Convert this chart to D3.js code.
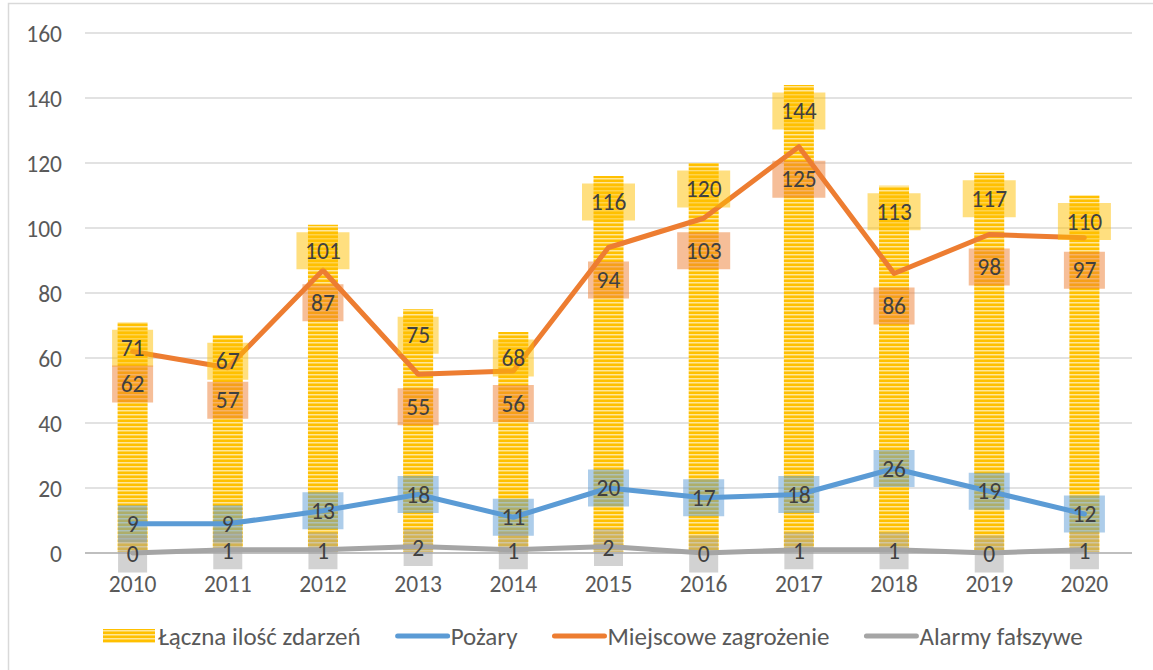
<!DOCTYPE html>
<html><head><meta charset="utf-8">
<script src="https://cdn.jsdelivr.net/npm/d3@7"></script>
<style>
html,body{margin:0;padding:0;background:#fff;}
svg text{font-family:Carlito,Lato,"Open Sans",sans-serif;}
</style></head>
<body>
<svg id="chart" width="1153" height="670"></svg>
<script>
const years = ["2010","2011","2012","2013","2014","2015","2016","2017","2018","2019","2020"];
const totalEvents = [71, 67, 101, 75, 68, 116, 120, 144, 113, 117, 110];
const fires = [9, 9, 13, 18, 11, 20, 17, 18, 26, 19, 12];
const localThreats = [62, 57, 87, 55, 56, 94, 103, 125, 86, 98, 97];
const falseAlarms = [0, 1, 1, 2, 1, 2, 0, 1, 1, 0, 1];
const yTicks = [0, 20, 40, 60, 80, 100, 120, 140, 160];
const seriesNames = ["Łączna ilość zdarzeń", "Pożary", "Miejscowe zagrożenie", "Alarmy fałszywe"];

const svg = d3.select("#chart");
const plot = {left: 85, right: 1132, top: 33, bottom: 553};
const FS = 23.5;

// outer chart frame (extends beyond the photo on right/bottom)
svg.append("rect").attr("x", 8.5).attr("y", 3.5).attr("width", 1160).attr("height", 700)
  .attr("fill", "#fff").attr("stroke", "#d9d9d9").attr("stroke-width", 1.5);

const x = d3.scaleBand().domain(years).range([plot.left, plot.right]).padding(0);
const y = d3.scaleLinear().domain([0, 160]).range([plot.bottom, plot.top]);

// pattern for bars
const defs = svg.append("defs");
const pat = defs.append("pattern").attr("id", "stripes").attr("patternUnits", "userSpaceOnUse")
  .attr("width", 8).attr("height", 4);
pat.append("rect").attr("width", 8).attr("height", 4).attr("fill", "#FFC000");
pat.append("rect").attr("y", 2).attr("width", 8).attr("height", 1).attr("fill", "#FFE699");
pat.append("rect").attr("y", 3).attr("width", 8).attr("height", 1).attr("fill", "#FFD34D");

// gridlines
svg.append("g").selectAll("line").data(yTicks.filter(d => d > 0)).join("line")
  .attr("x1", plot.left).attr("x2", plot.right)
  .attr("y1", d => y(d)).attr("y2", d => y(d))
  .attr("stroke", "#d9d9d9").attr("stroke-width", 1.5);

// y axis labels
const yAxis = d3.axisLeft(y).tickValues(yTicks).tickSize(0).tickPadding(0);
const yg = svg.append("g").attr("transform", `translate(62,0)`).call(yAxis);
yg.select(".domain").remove();
yg.selectAll("text").attr("font-size", FS).attr("fill", "#595959")
  .style("font-family", "Carlito,Lato,sans-serif").attr("dy", "0.35em");

// bars
const barW = 30;
svg.append("g").selectAll("rect").data(totalEvents).join("rect")
  .attr("x", (d, i) => x(years[i]) + x.bandwidth() / 2 - barW / 2)
  .attr("width", barW)
  .attr("y", d => y(d))
  .attr("height", d => y(0) - y(d))
  .attr("fill", "url(#stripes)");

// category axis line
svg.append("line").attr("x1", plot.left).attr("x2", plot.right)
  .attr("y1", y(0)).attr("y2", y(0)).attr("stroke", "#bfbfbf").attr("stroke-width", 2);

// x axis labels
const xAxis = d3.axisBottom(x).tickSize(0).tickPadding(0);
const xg = svg.append("g").attr("transform", `translate(0,${y(0)})`).call(xAxis);
xg.select(".domain").remove();
xg.selectAll("text").attr("font-size", FS).attr("fill", "#595959")
  .style("font-family", "Carlito,Lato,sans-serif").attr("y", 31).attr("dy", "0.35em");

// lines
const lineGen = d3.line().x((d, i) => x(years[i]) + x.bandwidth() / 2).y(d => y(d));
const lineSeries = [
  {data: fires, color: "#5B9BD5"},
  {data: localThreats, color: "#ED7D31"},
  {data: falseAlarms, color: "#A5A5A5"}
];
[lineSeries[2], lineSeries[0], lineSeries[1]].forEach(s => {
  svg.append("path").datum(s.data).attr("d", lineGen)
    .attr("fill", "none").attr("stroke", s.color).attr("stroke-width", 5)
    .attr("stroke-linejoin", "round").attr("stroke-linecap", "round");
});

// labels
const lblG = svg.append("g");
const boxH = 37;
function addLabels(data, color, centerYFn) {
  data.forEach((v, i) => {
    const cx = x(years[i]) + x.bandwidth() / 2;
    const cy = centerYFn(v);
    const g = lblG.append("g");
    g.append("text").text(v).attr("x", cx).attr("y", cy).attr("dy", "0.35em")
      .attr("text-anchor", "middle").attr("font-size", FS).attr("fill", "#404040");
    const digits = String(v).length;
    const bw = 17 + 12 * digits;
    g.insert("rect", "text").attr("x", cx - bw / 2).attr("y", cy - boxH / 2)
      .attr("width", bw).attr("height", boxH).attr("fill", color).attr("fill-opacity", 0.5);
  });
}
addLabels(totalEvents, "#FFC000", v => y(v) + 7.5 + boxH / 2);
addLabels(localThreats, "#ED7D31", v => y(v) + 14 + boxH / 2);
addLabels(fires, "#5B9BD5", v => y(v));
addLabels(falseAlarms, "#A5A5A5", v => y(v) + 1);

// legend
const leg = svg.append("g").attr("transform", "translate(0,636)");
let lx = 103;
seriesNames.forEach((name, i) => {
  if (i === 0) {
    leg.append("rect").attr("x", lx).attr("y", -7).attr("width", 52).attr("height", 14).attr("fill", "url(#stripes)");
  } else {
    leg.append("line").attr("x1", lx + 2).attr("x2", lx + 52).attr("y1", 0).attr("y2", 0)
      .attr("stroke", lineSeries[i - 1].color).attr("stroke-width", 5).attr("stroke-linecap", "round");
  }
  const t = leg.append("text").attr("x", lx + 55).attr("y", 0).attr("dy", "0.35em")
    .attr("font-size", 25).attr("fill", "#595959").text(name);
  lx += 55 + t.node().getComputedTextLength() + 35;
});
</script>
</body></html>
